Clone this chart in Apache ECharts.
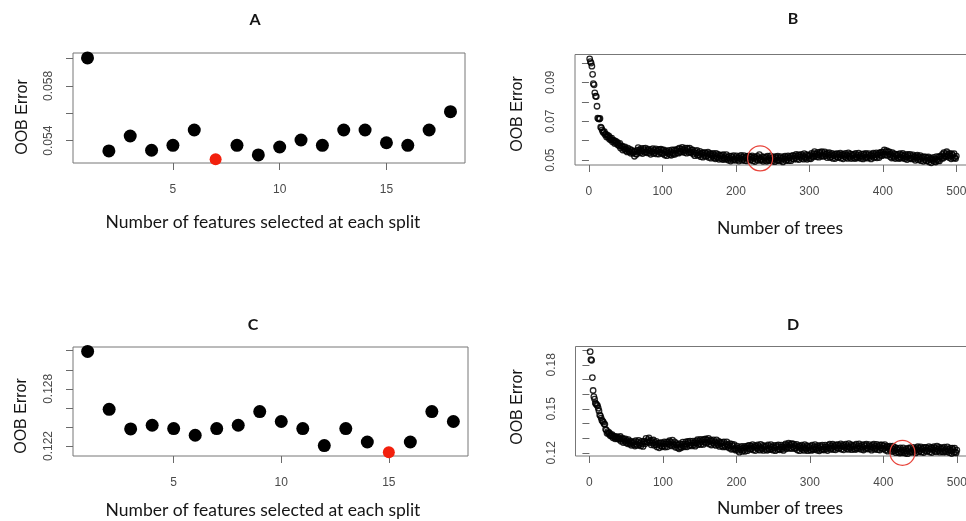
<!DOCTYPE html>
<html><head><meta charset="utf-8">
<script src="https://cdn.jsdelivr.net/npm/echarts@6/dist/echarts.min.js"></script>
<style>html,body{margin:0;padding:0;background:#fff}#c{width:966px;height:521px}</style>
</head><body><div id="c"></div>
<script>
// ---- Panel A / C: OOB error vs number of features per split ----
const featuresA = [1,2,3,4,5,6,7,8,9,10,11,12,13,14,15,16,17,18];
const errA = [0.06004,0.05325,0.05434,0.05330,0.05366,0.05478,0.05264,0.05366,0.05296,0.05354,0.05405,0.05366,0.05478,0.05478,0.05385,0.05366,0.05478,0.05612];
const bestA = 7;
const featuresC = [1,2,3,4,5,6,7,8,9,10,11,12,13,14,15,16,17,18];
const errC = [0.13193,0.12585,0.12379,0.12418,0.12383,0.12313,0.12383,0.12418,0.12561,0.12457,0.12383,0.12204,0.12383,0.12242,0.12134,0.12242,0.12561,0.12457];
const bestC = 15;

// ---- Panel B / D: OOB error vs number of trees (1..500) ----
const errB = [
0.1021,0.1006,0.0999,0.0983,0.0941,0.0893,0.0887,0.0846,0.0829,0.0827,0.0777,0.0716,0.0713,0.0711,0.0714,0.0669,0.0666,0.0655,0.0646,0.0641,
0.0647,0.0631,0.0634,0.0619,0.0629,0.0619,0.0625,0.0607,0.0614,0.0604,0.0613,0.0594,0.0601,0.0602,0.0586,0.0598,0.0588,0.0594,0.0579,0.0585,
0.0574,0.0586,0.0562,0.0571,0.0573,0.0552,0.0567,0.0558,0.0568,0.0549,0.0557,0.0542,0.0562,0.0548,0.0542,0.0555,0.0535,0.0551,0.0545,0.0535,
0.0543,0.0520,0.0546,0.0532,0.0530,0.0551,0.0564,0.0543,0.0552,0.0538,0.0559,0.0547,0.0534,0.0560,0.0553,0.0540,0.0562,0.0543,0.0538,0.0552,
0.0557,0.0537,0.0548,0.0530,0.0554,0.0543,0.0559,0.0534,0.0550,0.0539,0.0558,0.0532,0.0546,0.0553,0.0531,0.0555,0.0541,0.0556,0.0536,0.0551,
0.0533,0.0552,0.0526,0.0540,0.0547,0.0523,0.0544,0.0535,0.0550,0.0529,0.0542,0.0525,0.0553,0.0537,0.0530,0.0552,0.0530,0.0553,0.0549,0.0538,
0.0557,0.0536,0.0562,0.0545,0.0541,0.0556,0.0566,0.0544,0.0553,0.0539,0.0561,0.0549,0.0536,0.0562,0.0555,0.0540,0.0562,0.0543,0.0538,0.0552,
0.0552,0.0531,0.0541,0.0523,0.0546,0.0535,0.0550,0.0524,0.0539,0.0527,0.0545,0.0518,0.0531,0.0537,0.0515,0.0538,0.0524,0.0539,0.0519,0.0534,
0.0522,0.0541,0.0514,0.0528,0.0534,0.0510,0.0530,0.0520,0.0534,0.0512,0.0524,0.0507,0.0534,0.0518,0.0511,0.0529,0.0504,0.0525,0.0519,0.0508,
0.0525,0.0503,0.0528,0.0511,0.0504,0.0518,0.0528,0.0505,0.0514,0.0499,0.0521,0.0509,0.0495,0.0521,0.0514,0.0501,0.0523,0.0504,0.0499,0.0513,
0.0522,0.0502,0.0513,0.0495,0.0519,0.0508,0.0524,0.0499,0.0515,0.0504,0.0523,0.0497,0.0511,0.0518,0.0496,0.0520,0.0506,0.0521,0.0501,0.0516,
0.0503,0.0522,0.0496,0.0510,0.0517,0.0493,0.0514,0.0505,0.0520,0.0499,0.0512,0.0528,0.0500,0.0507,0.0500,0.0518,0.0494,0.0515,0.0509,0.0498,
0.0515,0.0494,0.0520,0.0503,0.0497,0.0512,0.0522,0.0500,0.0509,0.0495,0.0517,0.0505,0.0492,0.0518,0.0511,0.0498,0.0520,0.0501,0.0496,0.0510,
0.0518,0.0498,0.0509,0.0491,0.0516,0.0505,0.0521,0.0497,0.0513,0.0503,0.0522,0.0497,0.0511,0.0519,0.0497,0.0522,0.0508,0.0524,0.0505,0.0521,
0.0511,0.0530,0.0505,0.0519,0.0527,0.0503,0.0524,0.0515,0.0530,0.0509,0.0522,0.0505,0.0533,0.0517,0.0510,0.0528,0.0504,0.0525,0.0519,0.0508,
0.0527,0.0507,0.0535,0.0520,0.0516,0.0533,0.0544,0.0522,0.0531,0.0517,0.0539,0.0527,0.0515,0.0541,0.0534,0.0521,0.0543,0.0524,0.0519,0.0533,
0.0542,0.0522,0.0532,0.0513,0.0536,0.0524,0.0539,0.0513,0.0528,0.0517,0.0535,0.0509,0.0523,0.0530,0.0508,0.0532,0.0518,0.0533,0.0513,0.0528,
0.0517,0.0536,0.0510,0.0524,0.0531,0.0507,0.0528,0.0519,0.0534,0.0513,0.0526,0.0509,0.0537,0.0521,0.0514,0.0532,0.0508,0.0529,0.0523,0.0512,
0.0529,0.0508,0.0534,0.0517,0.0511,0.0526,0.0536,0.0514,0.0523,0.0509,0.0531,0.0519,0.0506,0.0532,0.0525,0.0512,0.0534,0.0515,0.0510,0.0524,
0.0533,0.0513,0.0524,0.0506,0.0531,0.0520,0.0536,0.0512,0.0528,0.0518,0.0537,0.0512,0.0526,0.0534,0.0513,0.0538,0.0525,0.0541,0.0523,0.0540,
0.0531,0.0552,0.0527,0.0542,0.0549,0.0524,0.0543,0.0531,0.0542,0.0518,0.0529,0.0511,0.0538,0.0521,0.0514,0.0532,0.0508,0.0529,0.0523,0.0512,
0.0529,0.0508,0.0533,0.0516,0.0510,0.0525,0.0534,0.0512,0.0521,0.0507,0.0528,0.0516,0.0503,0.0529,0.0522,0.0509,0.0530,0.0511,0.0506,0.0519,
0.0527,0.0507,0.0517,0.0499,0.0522,0.0511,0.0526,0.0501,0.0516,0.0505,0.0523,0.0497,0.0510,0.0517,0.0494,0.0517,0.0503,0.0517,0.0496,0.0511,
0.0498,0.0516,0.0490,0.0503,0.0510,0.0486,0.0507,0.0499,0.0514,0.0493,0.0506,0.0490,0.0518,0.0503,0.0497,0.0517,0.0496,0.0520,0.0517,0.0509,
0.0529,0.0510,0.0538,0.0522,0.0517,0.0533,0.0543,0.0520,0.0528,0.0513,0.0534,0.0521,0.0507,0.0532,0.0524,0.0511,0.0533,0.0513,0.0508,0.0521
];
const errD = [
0.1890,0.1836,0.1831,0.1713,0.1625,0.1583,0.1566,0.1540,0.1533,0.1526,0.1522,0.1504,0.1485,0.1458,0.1452,0.1437,0.1421,0.1415,0.1409,0.1396,
0.1394,0.1360,0.1354,0.1333,0.1344,0.1332,0.1338,0.1317,0.1323,0.1313,0.1323,0.1302,0.1310,0.1312,0.1295,0.1310,0.1299,0.1308,0.1294,0.1303,
0.1291,0.1311,0.1279,0.1293,0.1299,0.1270,0.1291,0.1280,0.1295,0.1269,0.1282,0.1261,0.1290,0.1270,0.1260,0.1279,0.1251,0.1274,0.1266,0.1254,
0.1275,0.1246,0.1282,0.1258,0.1250,0.1271,0.1285,0.1254,0.1267,0.1247,0.1278,0.1261,0.1243,0.1279,0.1274,0.1261,0.1298,0.1276,0.1271,0.1290,
0.1301,0.1270,0.1282,0.1254,0.1285,0.1267,0.1288,0.1251,0.1271,0.1254,0.1278,0.1240,0.1257,0.1266,0.1234,0.1268,0.1248,0.1269,0.1241,0.1262,
0.1247,0.1275,0.1239,0.1261,0.1273,0.1241,0.1272,0.1261,0.1282,0.1252,0.1271,0.1247,0.1286,0.1263,0.1251,0.1274,0.1237,0.1264,0.1252,0.1234,
0.1257,0.1227,0.1263,0.1240,0.1234,0.1257,0.1273,0.1244,0.1259,0.1241,0.1274,0.1258,0.1241,0.1277,0.1268,0.1249,0.1280,0.1254,0.1247,0.1266,
0.1280,0.1253,0.1269,0.1245,0.1280,0.1265,0.1289,0.1255,0.1278,0.1264,0.1291,0.1256,0.1276,0.1287,0.1257,0.1292,0.1272,0.1294,0.1266,0.1287,
0.1272,0.1298,0.1260,0.1279,0.1288,0.1253,0.1281,0.1268,0.1288,0.1257,0.1275,0.1250,0.1288,0.1265,0.1254,0.1278,0.1243,0.1272,0.1262,0.1246,
0.1270,0.1240,0.1275,0.1250,0.1241,0.1261,0.1274,0.1242,0.1254,0.1233,0.1263,0.1244,0.1224,0.1258,0.1247,0.1226,0.1255,0.1227,0.1218,0.1235,
0.1246,0.1216,0.1230,0.1204,0.1237,0.1221,0.1244,0.1209,0.1231,0.1217,0.1244,0.1210,0.1231,0.1243,0.1214,0.1249,0.1230,0.1251,0.1223,0.1244,
0.1229,0.1256,0.1219,0.1239,0.1249,0.1215,0.1244,0.1232,0.1253,0.1223,0.1242,0.1218,0.1257,0.1235,0.1225,0.1250,0.1216,0.1246,0.1237,0.1222,
0.1246,0.1217,0.1253,0.1229,0.1221,0.1242,0.1256,0.1225,0.1238,0.1218,0.1249,0.1232,0.1214,0.1250,0.1241,0.1222,0.1253,0.1227,0.1220,0.1239,
0.1252,0.1224,0.1240,0.1216,0.1251,0.1236,0.1260,0.1227,0.1251,0.1238,0.1266,0.1231,0.1251,0.1261,0.1229,0.1262,0.1240,0.1259,0.1229,0.1248,
0.1231,0.1257,0.1219,0.1239,0.1248,0.1214,0.1243,0.1231,0.1252,0.1222,0.1241,0.1216,0.1255,0.1233,0.1223,0.1248,0.1214,0.1244,0.1235,0.1220,
0.1245,0.1216,0.1252,0.1228,0.1220,0.1241,0.1255,0.1224,0.1237,0.1217,0.1248,0.1231,0.1213,0.1249,0.1240,0.1221,0.1252,0.1226,0.1219,0.1238,
0.1252,0.1224,0.1240,0.1215,0.1250,0.1234,0.1258,0.1223,0.1246,0.1231,0.1258,0.1222,0.1241,0.1251,0.1220,0.1254,0.1234,0.1255,0.1227,0.1248,
0.1234,0.1261,0.1224,0.1244,0.1254,0.1220,0.1249,0.1237,0.1258,0.1228,0.1247,0.1223,0.1262,0.1240,0.1230,0.1255,0.1221,0.1251,0.1242,0.1227,
0.1251,0.1222,0.1258,0.1234,0.1226,0.1247,0.1261,0.1230,0.1243,0.1223,0.1254,0.1237,0.1219,0.1255,0.1246,0.1227,0.1258,0.1232,0.1225,0.1244,
0.1256,0.1228,0.1243,0.1218,0.1252,0.1236,0.1259,0.1224,0.1246,0.1231,0.1257,0.1221,0.1240,0.1250,0.1219,0.1253,0.1233,0.1254,0.1226,0.1247,
0.1230,0.1256,0.1218,0.1237,0.1246,0.1211,0.1239,0.1226,0.1246,0.1215,0.1233,0.1208,0.1246,0.1223,0.1212,0.1236,0.1201,0.1230,0.1220,0.1204,
0.1228,0.1198,0.1233,0.1208,0.1199,0.1219,0.1233,0.1202,0.1215,0.1196,0.1227,0.1211,0.1194,0.1231,0.1222,0.1204,0.1235,0.1210,0.1203,0.1222,
0.1236,0.1208,0.1224,0.1199,0.1233,0.1218,0.1241,0.1206,0.1229,0.1214,0.1240,0.1204,0.1223,0.1233,0.1202,0.1236,0.1216,0.1237,0.1209,0.1230,
0.1215,0.1242,0.1205,0.1226,0.1236,0.1202,0.1232,0.1220,0.1241,0.1211,0.1230,0.1206,0.1245,0.1223,0.1213,0.1238,0.1204,0.1233,0.1224,0.1208,
0.1233,0.1204,0.1239,0.1215,0.1206,0.1227,0.1240,0.1209,0.1221,0.1201,0.1231,0.1214,0.1195,0.1231,0.1221,0.1202,0.1232,0.1206,0.1199,0.1218
];
const markB = [233, 0.0509];   // highlighted tree count in B
const markD = [426, 0.1200];   // highlighted tree count in D

// ---- ticks & labels ----
const featTicks = [5, 10, 15];
const treeTicks = [0, 100, 200, 300, 400, 500];
const yTicksA = [0.054, 0.056, 0.058, 0.060];  const yLabelsA = [0.054, 0.058];
const yTicksC = [0.122, 0.124, 0.126, 0.128, 0.130, 0.132]; const yLabelsC = [0.122, 0.128];
const yTicksB = [0.05, 0.06, 0.07, 0.08, 0.09, 0.10]; const yLabelsB = [0.05, 0.07, 0.09];
const yTicksD = [0.12, 0.13, 0.14, 0.15, 0.16, 0.17, 0.18, 0.19]; const yLabelsD = [0.12, 0.15, 0.18];

const panelTitles = ['A', 'B', 'C', 'D'];
const xTitleFeat = 'Number of features selected at each split';
const xTitleTrees = 'Number of trees';
const yTitle = 'OOB Error';

// ---- build ----
const chart = echarts.init(document.getElementById('c'));
const labelFont = { fontFamily: 'Liberation Sans', fontSize: 12, color: '#4a4a4a' };
const tickStyle = { lineStyle: { color: '#6a6a6a', width: 1 } };

function xAx(gi, min, max, ticks) {
  return {
    type: 'value', gridIndex: gi, min: min, max: max,
    axisLine: { show: false }, splitLine: { show: false },
    axisTick: Object.assign({ show: true, length: 7, customValues: ticks }, tickStyle),
    axisLabel: Object.assign({ customValues: ticks, margin: 21 }, labelFont)
  };
}
function yAx(gi, min, max, ticks, labels) {
  return {
    type: 'value', gridIndex: gi, min: min, max: max,
    axisLine: { show: false }, splitLine: { show: false },
    axisTick: Object.assign({ show: true, length: 7, customValues: ticks }, tickStyle),
    axisLabel: Object.assign({ customValues: labels, rotate: 90, margin: 18 }, labelFont)
  };
}
const gridBase = { show: true, borderColor: '#777', borderWidth: 1, backgroundColor: 'transparent', containLabel: false, outerBoundsMode: 'none' };

const blackPts = (feat, err, best) => feat.filter(f => f !== best).map(f => [f, err[f - 1]]);
const redPt = (err, best) => [[best, err[best - 1]]];
const treePts = err => err.map((v, i) => [i + 1, v]);

const hollow = { color: 'rgba(0,0,0,0)', borderColor: 'rgba(0,0,0,0.85)', borderWidth: 1.3, opacity: 1 };
const ring = { color: 'rgba(0,0,0,0)', borderColor: '#e8453c', borderWidth: 1.2, opacity: 1 };

function txt(x, y, text, font, rot) {
  return { type: 'text', x: x, y: y, rotation: rot || 0, silent: true,
    style: { text: text, font: font, fill: '#151515', align: 'center', verticalAlign: 'middle', textAlign: 'center', textVerticalAlign: 'middle' } };
}
const titleFont = 'bold 16px Lato';
const xFont = '17.5px Lato';
const yFont = '16px "Liberation Sans"';

chart.setOption({
  backgroundColor: '#fff',
  animation: false,
  grid: [
    Object.assign({ left: 73, top: 53, width: 392, height: 110 }, gridBase),
    Object.assign({ left: 575, top: 54.5, width: 396, height: 110.5 }, gridBase),
    Object.assign({ left: 73, top: 347, width: 395, height: 109 }, gridBase),
    Object.assign({ left: 575.5, top: 346.5, width: 396, height: 109.5 }, gridBase)
  ],
  xAxis: [
    xAx(0, 0.32, 18.68, featTicks),
    xAx(1, -18.96, 519.96, treeTicks),
    xAx(2, 0.32, 18.68, featTicks),
    xAx(3, -18.96, 519.96, treeTicks)
  ],
  yAxis: [
    yAx(0, 0.05237, 0.0604, yTicksA, yLabelsA),
    yAx(1, 0.0475, 0.1043, yTicksB, yLabelsB),
    yAx(2, 0.12095, 0.13239, yTicksC, yLabelsC),
    yAx(3, 0.1178, 0.1925, yTicksD, yLabelsD)
  ],
  series: [
    { type: 'scatter', xAxisIndex: 0, yAxisIndex: 0, symbolSize: 13, itemStyle: { color: '#000', opacity: 1 }, data: blackPts(featuresA, errA, bestA) },
    { type: 'scatter', xAxisIndex: 0, yAxisIndex: 0, symbolSize: 12, itemStyle: { color: '#f2200d', opacity: 1 }, data: redPt(errA, bestA) },
    { type: 'scatter', xAxisIndex: 2, yAxisIndex: 2, symbolSize: 13, itemStyle: { color: '#000', opacity: 1 }, data: blackPts(featuresC, errC, bestC) },
    { type: 'scatter', xAxisIndex: 2, yAxisIndex: 2, symbolSize: 12, itemStyle: { color: '#f2200d', opacity: 1 }, data: redPt(errC, bestC) },
    { type: 'scatter', xAxisIndex: 1, yAxisIndex: 1, symbol: 'circle', symbolSize: 5.5, large: false, itemStyle: hollow, data: treePts(errB) },
    { type: 'scatter', xAxisIndex: 3, yAxisIndex: 3, symbol: 'circle', symbolSize: 5.5, large: false, itemStyle: hollow, data: treePts(errD) },
    { type: 'scatter', xAxisIndex: 1, yAxisIndex: 1, symbol: 'circle', symbolSize: 25, z: 5, itemStyle: ring, data: [markB] },
    { type: 'scatter', xAxisIndex: 3, yAxisIndex: 3, symbol: 'circle', symbolSize: 25, z: 5, itemStyle: ring, data: [markD] }
  ],
  graphic: [
    txt(255, 20, panelTitles[0], titleFont),
    txt(793, 19, panelTitles[1], titleFont),
    txt(253, 325, panelTitles[2], titleFont),
    txt(793, 325, panelTitles[3], titleFont),
    txt(263, 222, xTitleFeat, xFont),
    txt(780, 228, xTitleTrees, xFont),
    txt(263, 510, xTitleFeat, xFont),
    txt(780, 508, xTitleTrees, xFont),
    txt(23, 117, yTitle, yFont, Math.PI / 2),
    txt(518, 114, yTitle, yFont, Math.PI / 2),
    txt(22, 416, yTitle, yFont, Math.PI / 2),
    txt(518, 407, yTitle, yFont, Math.PI / 2)
  ]
});
</script></body></html>
